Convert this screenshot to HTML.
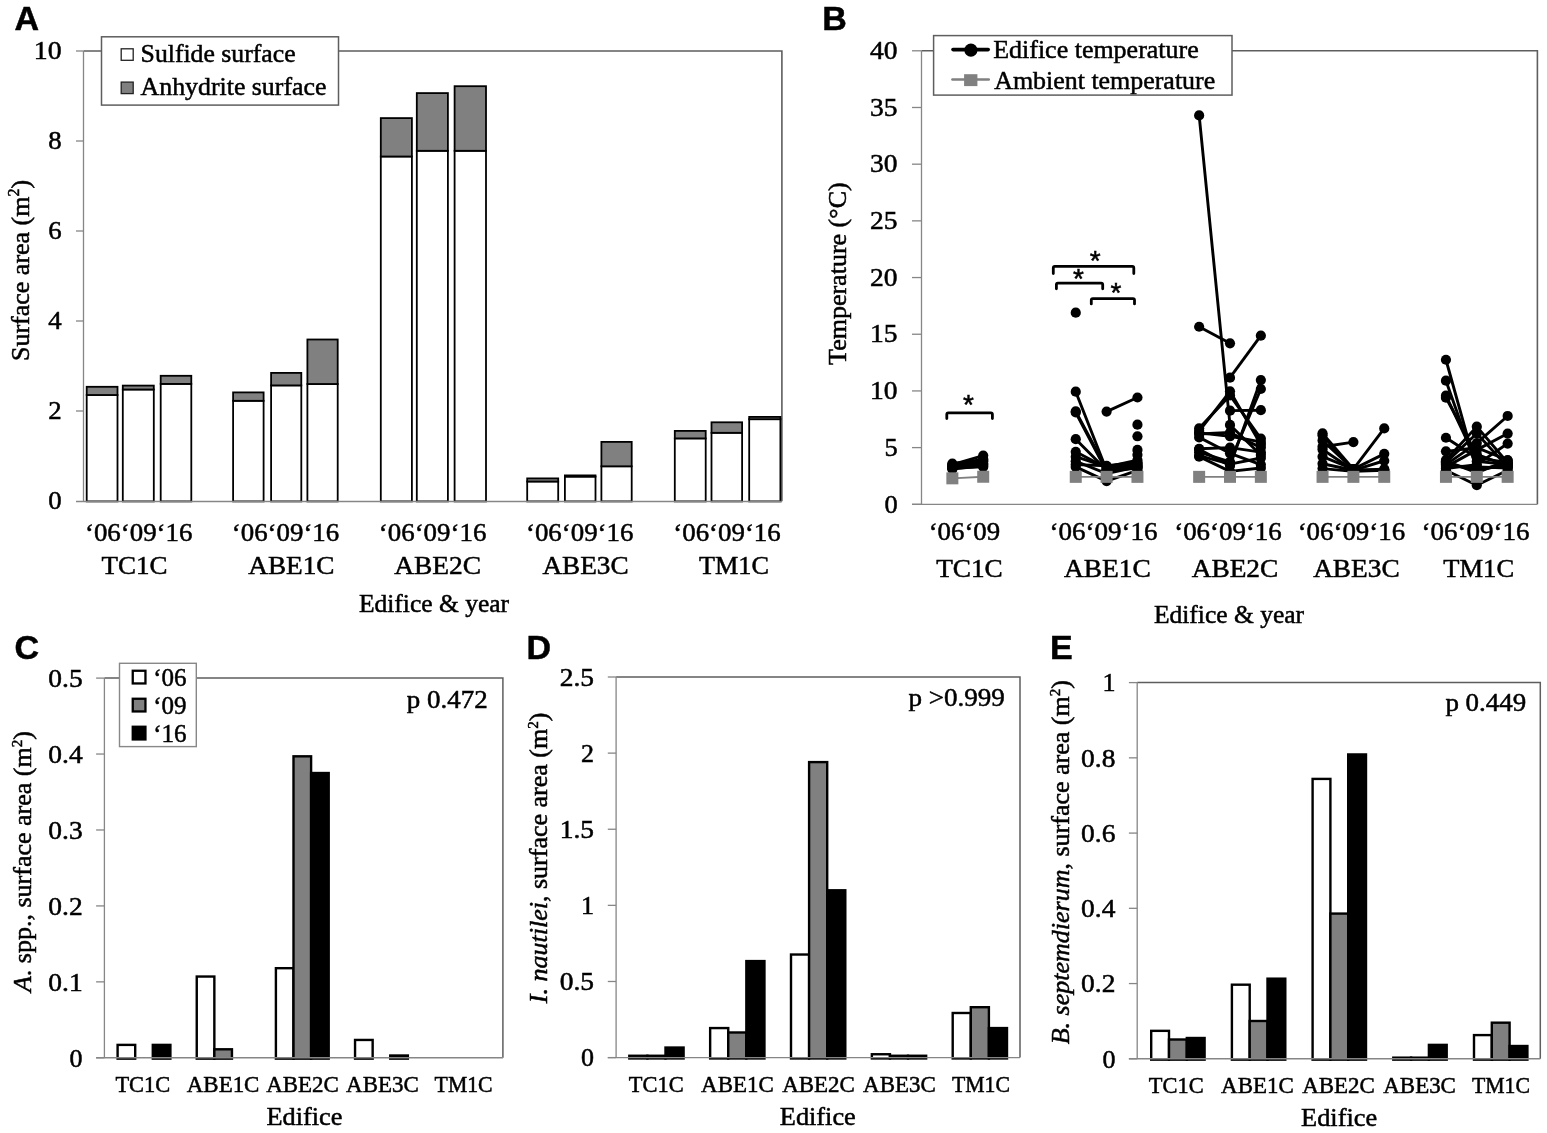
<!DOCTYPE html>
<html><head><meta charset="utf-8"><title>Figure</title>
<style>
html,body{margin:0;padding:0;background:#fff;overflow:hidden;}
svg{display:block;}
text{font-family:'Liberation Serif', 'Times New Roman', serif;fill:#000;stroke:#000;stroke-width:0.5px;}
.ns{stroke:none;}
</style></head><body>
<svg width="1547" height="1133" viewBox="0 0 1547 1133">
<rect width="1547" height="1133" fill="#fff"/>
<text x="14.5" y="30.2" font-size="34" text-anchor="start" style="font-family:'Liberation Sans', Arial, sans-serif" font-weight="bold" >A</text>
<text x="822.3" y="30.0" font-size="34" text-anchor="start" style="font-family:'Liberation Sans', Arial, sans-serif" font-weight="bold" >B</text>
<text x="14.6" y="659.0" font-size="34" text-anchor="start" style="font-family:'Liberation Sans', Arial, sans-serif" font-weight="bold" >C</text>
<text x="526.6" y="658.9" font-size="34" text-anchor="start" style="font-family:'Liberation Sans', Arial, sans-serif" font-weight="bold" >D</text>
<text x="1049.9" y="658.8" font-size="34" text-anchor="start" style="font-family:'Liberation Sans', Arial, sans-serif" font-weight="bold" >E</text>
<path d="M83.50,51.0 H781.9 V501.00" fill="none" stroke="#5e5e5e" stroke-width="1.6"/>
<line x1="83.50" y1="51.00" x2="83.50" y2="501.00" stroke="#868686" stroke-width="1.3" />
<text x="61.6" y="509.2" font-size="25" text-anchor="end" textLength="13.4" lengthAdjust="spacingAndGlyphs" >0</text>
<line x1="76.00" y1="411.00" x2="83.50" y2="411.00" stroke="#868686" stroke-width="1.3" />
<text x="61.6" y="419.2" font-size="25" text-anchor="end" textLength="13.4" lengthAdjust="spacingAndGlyphs" >2</text>
<line x1="76.00" y1="321.00" x2="83.50" y2="321.00" stroke="#868686" stroke-width="1.3" />
<text x="61.6" y="329.2" font-size="25" text-anchor="end" textLength="13.4" lengthAdjust="spacingAndGlyphs" >4</text>
<line x1="76.00" y1="231.00" x2="83.50" y2="231.00" stroke="#868686" stroke-width="1.3" />
<text x="61.6" y="239.2" font-size="25" text-anchor="end" textLength="13.4" lengthAdjust="spacingAndGlyphs" >6</text>
<line x1="76.00" y1="141.00" x2="83.50" y2="141.00" stroke="#868686" stroke-width="1.3" />
<text x="61.6" y="149.2" font-size="25" text-anchor="end" textLength="13.4" lengthAdjust="spacingAndGlyphs" >8</text>
<line x1="76.00" y1="51.00" x2="83.50" y2="51.00" stroke="#868686" stroke-width="1.3" />
<text x="61.6" y="59.2" font-size="25" text-anchor="end" textLength="27.8" lengthAdjust="spacingAndGlyphs" >10</text>
<rect x="86.70" y="395.00" width="30.80" height="106.40" fill="#ffffff" stroke="#000" stroke-width="1.8" />
<rect x="86.70" y="386.80" width="30.80" height="8.20" fill="#808080" stroke="#000" stroke-width="1.8" />
<rect x="122.80" y="389.50" width="31.00" height="111.90" fill="#ffffff" stroke="#000" stroke-width="1.8" />
<rect x="122.80" y="385.60" width="31.00" height="3.90" fill="#808080" stroke="#000" stroke-width="1.8" />
<rect x="160.70" y="383.90" width="30.60" height="117.50" fill="#ffffff" stroke="#000" stroke-width="1.8" />
<rect x="160.70" y="375.80" width="30.60" height="8.10" fill="#808080" stroke="#000" stroke-width="1.8" />
<rect x="233.10" y="400.80" width="30.50" height="100.60" fill="#ffffff" stroke="#000" stroke-width="1.8" />
<rect x="233.10" y="392.40" width="30.50" height="8.40" fill="#808080" stroke="#000" stroke-width="1.8" />
<rect x="271.10" y="385.40" width="30.20" height="116.00" fill="#ffffff" stroke="#000" stroke-width="1.8" />
<rect x="271.10" y="372.90" width="30.20" height="12.50" fill="#808080" stroke="#000" stroke-width="1.8" />
<rect x="307.40" y="384.00" width="30.30" height="117.40" fill="#ffffff" stroke="#000" stroke-width="1.8" />
<rect x="307.40" y="339.50" width="30.30" height="44.50" fill="#808080" stroke="#000" stroke-width="1.8" />
<rect x="380.80" y="156.50" width="31.10" height="344.90" fill="#ffffff" stroke="#000" stroke-width="1.8" />
<rect x="380.80" y="118.10" width="31.10" height="38.40" fill="#808080" stroke="#000" stroke-width="1.8" />
<rect x="416.80" y="150.80" width="31.10" height="350.60" fill="#ffffff" stroke="#000" stroke-width="1.8" />
<rect x="416.80" y="93.10" width="31.10" height="57.70" fill="#808080" stroke="#000" stroke-width="1.8" />
<rect x="454.60" y="150.80" width="31.40" height="350.60" fill="#ffffff" stroke="#000" stroke-width="1.8" />
<rect x="454.60" y="86.20" width="31.40" height="64.60" fill="#808080" stroke="#000" stroke-width="1.8" />
<rect x="527.20" y="481.50" width="31.00" height="19.90" fill="#ffffff" stroke="#000" stroke-width="1.8" />
<rect x="527.20" y="478.40" width="31.00" height="3.10" fill="#808080" stroke="#000" stroke-width="1.8" />
<rect x="564.90" y="476.60" width="30.60" height="24.80" fill="#ffffff" stroke="#000" stroke-width="1.8" />
<rect x="564.90" y="475.40" width="30.60" height="1.20" fill="#808080" stroke="#000" stroke-width="1.8" />
<rect x="601.40" y="466.30" width="30.30" height="35.10" fill="#ffffff" stroke="#000" stroke-width="1.8" />
<rect x="601.40" y="441.90" width="30.30" height="24.40" fill="#808080" stroke="#000" stroke-width="1.8" />
<rect x="674.80" y="438.40" width="30.90" height="63.00" fill="#ffffff" stroke="#000" stroke-width="1.8" />
<rect x="674.80" y="430.90" width="30.90" height="7.50" fill="#808080" stroke="#000" stroke-width="1.8" />
<rect x="711.50" y="432.80" width="30.60" height="68.60" fill="#ffffff" stroke="#000" stroke-width="1.8" />
<rect x="711.50" y="422.30" width="30.60" height="10.50" fill="#808080" stroke="#000" stroke-width="1.8" />
<rect x="749.20" y="419.20" width="31.20" height="82.20" fill="#ffffff" stroke="#000" stroke-width="1.8" />
<rect x="749.20" y="416.90" width="31.20" height="2.30" fill="#808080" stroke="#000" stroke-width="1.8" />
<line x1="76.00" y1="501.40" x2="782.20" y2="501.40" stroke="#868686" stroke-width="1.5" />
<rect x="101.50" y="36.80" width="237.00" height="68.30" fill="#ffffff" stroke="#5e5e5e" stroke-width="1.5" />
<rect x="121.20" y="48.80" width="12.00" height="11.50" fill="#ffffff" stroke="#222" stroke-width="1.3" />
<rect x="121.20" y="82.10" width="12.00" height="11.50" fill="#808080" stroke="#222" stroke-width="1.3" />
<text x="140.6" y="61.5" font-size="25.5" text-anchor="start" textLength="155.0" lengthAdjust="spacingAndGlyphs" >Sulfide surface</text>
<text x="140.6" y="95.4" font-size="25.5" text-anchor="start" textLength="185.8" lengthAdjust="spacingAndGlyphs" >Anhydrite surface</text>
<text x="138.7" y="540.5" font-size="25.5" text-anchor="middle" textLength="107.5" lengthAdjust="spacingAndGlyphs" >‘06‘09‘16</text>
<text x="285.5" y="540.5" font-size="25.5" text-anchor="middle" textLength="107.5" lengthAdjust="spacingAndGlyphs" >‘06‘09‘16</text>
<text x="432.6" y="540.5" font-size="25.5" text-anchor="middle" textLength="107.5" lengthAdjust="spacingAndGlyphs" >‘06‘09‘16</text>
<text x="579.7" y="540.5" font-size="25.5" text-anchor="middle" textLength="107.5" lengthAdjust="spacingAndGlyphs" >‘06‘09‘16</text>
<text x="727.0" y="540.5" font-size="25.5" text-anchor="middle" textLength="107.5" lengthAdjust="spacingAndGlyphs" >‘06‘09‘16</text>
<text x="134.5" y="573.5" font-size="25.5" text-anchor="middle" textLength="65.9" lengthAdjust="spacingAndGlyphs" >TC1C</text>
<text x="291.4" y="573.5" font-size="25.5" text-anchor="middle" textLength="86.3" lengthAdjust="spacingAndGlyphs" >ABE1C</text>
<text x="437.6" y="573.5" font-size="25.5" text-anchor="middle" textLength="86.8" lengthAdjust="spacingAndGlyphs" >ABE2C</text>
<text x="585.5" y="573.5" font-size="25.5" text-anchor="middle" textLength="86.2" lengthAdjust="spacingAndGlyphs" >ABE3C</text>
<text x="734.0" y="573.5" font-size="25.5" text-anchor="middle" textLength="69.9" lengthAdjust="spacingAndGlyphs" >TM1C</text>
<text x="434.0" y="612.3" font-size="25.5" text-anchor="middle" >Edifice &amp; year</text>
<text transform="translate(29.0,270.45) rotate(-90)" font-size="26" text-anchor="middle">Surface area (m<tspan font-size="16" dy="-10">2</tspan><tspan dy="10">)</tspan></text>
<path d="M921.50,50.80 H1537.40 V504.30" fill="none" stroke="#5e5e5e" stroke-width="1.6"/>
<line x1="921.50" y1="50.80" x2="921.50" y2="504.30" stroke="#868686" stroke-width="1.3" />
<line x1="912.00" y1="504.30" x2="921.50" y2="504.30" stroke="#868686" stroke-width="1.3" />
<text x="897.6" y="512.5" font-size="25" text-anchor="end" textLength="13.2" lengthAdjust="spacingAndGlyphs" >0</text>
<line x1="912.00" y1="447.61" x2="921.50" y2="447.61" stroke="#868686" stroke-width="1.3" />
<text x="897.6" y="455.8" font-size="25" text-anchor="end" textLength="13.2" lengthAdjust="spacingAndGlyphs" >5</text>
<line x1="912.00" y1="390.93" x2="921.50" y2="390.93" stroke="#868686" stroke-width="1.3" />
<text x="897.6" y="399.1" font-size="25" text-anchor="end" textLength="27.5" lengthAdjust="spacingAndGlyphs" >10</text>
<line x1="912.00" y1="334.24" x2="921.50" y2="334.24" stroke="#868686" stroke-width="1.3" />
<text x="897.6" y="342.4" font-size="25" text-anchor="end" textLength="27.5" lengthAdjust="spacingAndGlyphs" >15</text>
<line x1="912.00" y1="277.55" x2="921.50" y2="277.55" stroke="#868686" stroke-width="1.3" />
<text x="897.6" y="285.8" font-size="25" text-anchor="end" textLength="27.5" lengthAdjust="spacingAndGlyphs" >20</text>
<line x1="912.00" y1="220.86" x2="921.50" y2="220.86" stroke="#868686" stroke-width="1.3" />
<text x="897.6" y="229.1" font-size="25" text-anchor="end" textLength="27.5" lengthAdjust="spacingAndGlyphs" >25</text>
<line x1="912.00" y1="164.18" x2="921.50" y2="164.18" stroke="#868686" stroke-width="1.3" />
<text x="897.6" y="172.4" font-size="25" text-anchor="end" textLength="27.5" lengthAdjust="spacingAndGlyphs" >30</text>
<line x1="912.00" y1="107.49" x2="921.50" y2="107.49" stroke="#868686" stroke-width="1.3" />
<text x="897.6" y="115.7" font-size="25" text-anchor="end" textLength="27.5" lengthAdjust="spacingAndGlyphs" >35</text>
<line x1="912.00" y1="50.80" x2="921.50" y2="50.80" stroke="#868686" stroke-width="1.3" />
<text x="897.6" y="59.0" font-size="25" text-anchor="end" textLength="27.5" lengthAdjust="spacingAndGlyphs" >40</text>
<line x1="912.00" y1="504.30" x2="1537.40" y2="504.30" stroke="#868686" stroke-width="1.3" />
<polyline points="952.35,469.15 983.20,465.75" fill="none" stroke="#000" stroke-width="2.9" stroke-linejoin="round"/>
<circle cx="952.35" cy="469.15" r="5.1" fill="#000"/>
<circle cx="983.20" cy="465.75" r="5.1" fill="#000"/>
<polyline points="952.35,468.02 983.20,463.49" fill="none" stroke="#000" stroke-width="2.9" stroke-linejoin="round"/>
<circle cx="952.35" cy="468.02" r="5.1" fill="#000"/>
<circle cx="983.20" cy="463.49" r="5.1" fill="#000"/>
<polyline points="952.35,466.89 983.20,461.22" fill="none" stroke="#000" stroke-width="2.9" stroke-linejoin="round"/>
<circle cx="952.35" cy="466.89" r="5.1" fill="#000"/>
<circle cx="983.20" cy="461.22" r="5.1" fill="#000"/>
<polyline points="952.35,465.75 983.20,458.95" fill="none" stroke="#000" stroke-width="2.9" stroke-linejoin="round"/>
<circle cx="952.35" cy="465.75" r="5.1" fill="#000"/>
<circle cx="983.20" cy="458.95" r="5.1" fill="#000"/>
<polyline points="952.35,464.62 983.20,455.55" fill="none" stroke="#000" stroke-width="2.9" stroke-linejoin="round"/>
<circle cx="952.35" cy="464.62" r="5.1" fill="#000"/>
<circle cx="983.20" cy="455.55" r="5.1" fill="#000"/>
<polyline points="952.35,463.49 983.20,460.08" fill="none" stroke="#000" stroke-width="2.9" stroke-linejoin="round"/>
<circle cx="952.35" cy="463.49" r="5.1" fill="#000"/>
<circle cx="983.20" cy="460.08" r="5.1" fill="#000"/>
<polyline points="952.35,466.89 983.20,464.62" fill="none" stroke="#000" stroke-width="2.9" stroke-linejoin="round"/>
<circle cx="952.35" cy="466.89" r="5.1" fill="#000"/>
<circle cx="983.20" cy="464.62" r="5.1" fill="#000"/>
<polyline points="952.35,468.02 983.20,466.89" fill="none" stroke="#000" stroke-width="2.9" stroke-linejoin="round"/>
<circle cx="952.35" cy="468.02" r="5.1" fill="#000"/>
<circle cx="983.20" cy="466.89" r="5.1" fill="#000"/>
<circle cx="1075.75" cy="312.70" r="5.1" fill="#000"/>
<polyline points="1075.75,391.72 1106.60,470.29 1137.45,466.89" fill="none" stroke="#000" stroke-width="2.9" stroke-linejoin="round"/>
<circle cx="1075.75" cy="391.72" r="5.1" fill="#000"/>
<circle cx="1106.60" cy="470.29" r="5.1" fill="#000"/>
<circle cx="1137.45" cy="466.89" r="5.1" fill="#000"/>
<polyline points="1075.75,411.33 1106.60,469.15 1137.45,464.62" fill="none" stroke="#000" stroke-width="2.9" stroke-linejoin="round"/>
<circle cx="1075.75" cy="411.33" r="5.1" fill="#000"/>
<circle cx="1106.60" cy="469.15" r="5.1" fill="#000"/>
<circle cx="1137.45" cy="464.62" r="5.1" fill="#000"/>
<polyline points="1075.75,412.47 1106.60,471.42 1137.45,468.02" fill="none" stroke="#000" stroke-width="2.9" stroke-linejoin="round"/>
<circle cx="1075.75" cy="412.47" r="5.1" fill="#000"/>
<circle cx="1106.60" cy="471.42" r="5.1" fill="#000"/>
<circle cx="1137.45" cy="468.02" r="5.1" fill="#000"/>
<polyline points="1075.75,439.22 1106.60,470.29 1137.45,465.75" fill="none" stroke="#000" stroke-width="2.9" stroke-linejoin="round"/>
<circle cx="1075.75" cy="439.22" r="5.1" fill="#000"/>
<circle cx="1106.60" cy="470.29" r="5.1" fill="#000"/>
<circle cx="1137.45" cy="465.75" r="5.1" fill="#000"/>
<polyline points="1075.75,451.81 1106.60,468.02 1137.45,463.49" fill="none" stroke="#000" stroke-width="2.9" stroke-linejoin="round"/>
<circle cx="1075.75" cy="451.81" r="5.1" fill="#000"/>
<circle cx="1106.60" cy="468.02" r="5.1" fill="#000"/>
<circle cx="1137.45" cy="463.49" r="5.1" fill="#000"/>
<polyline points="1075.75,456.68 1106.60,466.89 1137.45,460.08" fill="none" stroke="#000" stroke-width="2.9" stroke-linejoin="round"/>
<circle cx="1075.75" cy="456.68" r="5.1" fill="#000"/>
<circle cx="1106.60" cy="466.89" r="5.1" fill="#000"/>
<circle cx="1137.45" cy="460.08" r="5.1" fill="#000"/>
<polyline points="1075.75,461.22 1106.60,473.69 1137.45,466.89" fill="none" stroke="#000" stroke-width="2.9" stroke-linejoin="round"/>
<circle cx="1075.75" cy="461.22" r="5.1" fill="#000"/>
<circle cx="1106.60" cy="473.69" r="5.1" fill="#000"/>
<circle cx="1137.45" cy="466.89" r="5.1" fill="#000"/>
<polyline points="1075.75,464.62 1106.60,465.75 1137.45,462.35" fill="none" stroke="#000" stroke-width="2.9" stroke-linejoin="round"/>
<circle cx="1075.75" cy="464.62" r="5.1" fill="#000"/>
<circle cx="1106.60" cy="465.75" r="5.1" fill="#000"/>
<circle cx="1137.45" cy="462.35" r="5.1" fill="#000"/>
<polyline points="1075.75,466.89 1106.60,481.06 1137.45,470.29" fill="none" stroke="#000" stroke-width="2.9" stroke-linejoin="round"/>
<circle cx="1075.75" cy="466.89" r="5.1" fill="#000"/>
<circle cx="1106.60" cy="481.06" r="5.1" fill="#000"/>
<circle cx="1137.45" cy="470.29" r="5.1" fill="#000"/>
<polyline points="1106.60,411.56 1137.45,397.50" fill="none" stroke="#000" stroke-width="2.9" stroke-linejoin="round"/>
<circle cx="1106.60" cy="411.56" r="5.1" fill="#000"/>
<circle cx="1137.45" cy="397.50" r="5.1" fill="#000"/>
<circle cx="1137.45" cy="424.71" r="5.1" fill="#000"/>
<circle cx="1137.45" cy="436.27" r="5.1" fill="#000"/>
<circle cx="1137.45" cy="449.88" r="5.1" fill="#000"/>
<circle cx="1137.45" cy="454.76" r="5.1" fill="#000"/>
<polyline points="1199.15,115.42 1230.00,424.94 1260.85,454.98" fill="none" stroke="#000" stroke-width="2.9" stroke-linejoin="round"/>
<circle cx="1199.15" cy="115.42" r="5.1" fill="#000"/>
<circle cx="1230.00" cy="424.94" r="5.1" fill="#000"/>
<circle cx="1260.85" cy="454.98" r="5.1" fill="#000"/>
<polyline points="1199.15,326.75 1230.00,343.31" fill="none" stroke="#000" stroke-width="2.9" stroke-linejoin="round"/>
<circle cx="1199.15" cy="326.75" r="5.1" fill="#000"/>
<circle cx="1230.00" cy="343.31" r="5.1" fill="#000"/>
<polyline points="1230.00,377.66 1260.85,335.71" fill="none" stroke="#000" stroke-width="2.9" stroke-linejoin="round"/>
<circle cx="1230.00" cy="377.66" r="5.1" fill="#000"/>
<circle cx="1260.85" cy="335.71" r="5.1" fill="#000"/>
<polyline points="1199.15,428.34 1230.00,395.46 1260.85,438.54" fill="none" stroke="#000" stroke-width="2.9" stroke-linejoin="round"/>
<circle cx="1199.15" cy="428.34" r="5.1" fill="#000"/>
<circle cx="1230.00" cy="395.46" r="5.1" fill="#000"/>
<circle cx="1260.85" cy="438.54" r="5.1" fill="#000"/>
<polyline points="1230.00,410.65 1260.85,410.20" fill="none" stroke="#000" stroke-width="2.9" stroke-linejoin="round"/>
<circle cx="1230.00" cy="410.65" r="5.1" fill="#000"/>
<circle cx="1260.85" cy="410.20" r="5.1" fill="#000"/>
<polyline points="1199.15,432.87 1230.00,436.27 1260.85,441.94" fill="none" stroke="#000" stroke-width="2.9" stroke-linejoin="round"/>
<circle cx="1199.15" cy="432.87" r="5.1" fill="#000"/>
<circle cx="1230.00" cy="436.27" r="5.1" fill="#000"/>
<circle cx="1260.85" cy="441.94" r="5.1" fill="#000"/>
<polyline points="1199.15,431.06 1230.00,391.27 1260.85,444.55" fill="none" stroke="#000" stroke-width="2.9" stroke-linejoin="round"/>
<circle cx="1199.15" cy="431.06" r="5.1" fill="#000"/>
<circle cx="1230.00" cy="391.27" r="5.1" fill="#000"/>
<circle cx="1260.85" cy="444.55" r="5.1" fill="#000"/>
<polyline points="1199.15,434.01 1230.00,432.53 1260.85,447.61" fill="none" stroke="#000" stroke-width="2.9" stroke-linejoin="round"/>
<circle cx="1199.15" cy="434.01" r="5.1" fill="#000"/>
<circle cx="1230.00" cy="432.53" r="5.1" fill="#000"/>
<circle cx="1260.85" cy="447.61" r="5.1" fill="#000"/>
<polyline points="1199.15,449.31 1230.00,465.75 1260.85,380.04" fill="none" stroke="#000" stroke-width="2.9" stroke-linejoin="round"/>
<circle cx="1199.15" cy="449.31" r="5.1" fill="#000"/>
<circle cx="1230.00" cy="465.75" r="5.1" fill="#000"/>
<circle cx="1260.85" cy="380.04" r="5.1" fill="#000"/>
<polyline points="1199.15,452.15 1230.00,461.78 1260.85,389.00" fill="none" stroke="#000" stroke-width="2.9" stroke-linejoin="round"/>
<circle cx="1199.15" cy="452.15" r="5.1" fill="#000"/>
<circle cx="1230.00" cy="461.78" r="5.1" fill="#000"/>
<circle cx="1260.85" cy="389.00" r="5.1" fill="#000"/>
<polyline points="1199.15,455.55 1230.00,464.05 1260.85,458.04" fill="none" stroke="#000" stroke-width="2.9" stroke-linejoin="round"/>
<circle cx="1199.15" cy="455.55" r="5.1" fill="#000"/>
<circle cx="1230.00" cy="464.05" r="5.1" fill="#000"/>
<circle cx="1260.85" cy="458.04" r="5.1" fill="#000"/>
<polyline points="1199.15,456.68 1230.00,471.42 1260.85,468.02" fill="none" stroke="#000" stroke-width="2.9" stroke-linejoin="round"/>
<circle cx="1199.15" cy="456.68" r="5.1" fill="#000"/>
<circle cx="1230.00" cy="471.42" r="5.1" fill="#000"/>
<circle cx="1260.85" cy="468.02" r="5.1" fill="#000"/>
<polyline points="1199.15,437.41 1230.00,453.28 1260.85,464.62" fill="none" stroke="#000" stroke-width="2.9" stroke-linejoin="round"/>
<circle cx="1199.15" cy="437.41" r="5.1" fill="#000"/>
<circle cx="1230.00" cy="453.28" r="5.1" fill="#000"/>
<circle cx="1260.85" cy="464.62" r="5.1" fill="#000"/>
<polyline points="1199.15,448.75 1230.00,447.61 1260.85,452.15" fill="none" stroke="#000" stroke-width="2.9" stroke-linejoin="round"/>
<circle cx="1199.15" cy="448.75" r="5.1" fill="#000"/>
<circle cx="1230.00" cy="447.61" r="5.1" fill="#000"/>
<circle cx="1260.85" cy="452.15" r="5.1" fill="#000"/>
<polyline points="1322.55,433.33 1353.40,469.15" fill="none" stroke="#000" stroke-width="2.9" stroke-linejoin="round"/>
<circle cx="1322.55" cy="433.33" r="5.1" fill="#000"/>
<circle cx="1353.40" cy="469.15" r="5.1" fill="#000"/>
<polyline points="1322.55,435.37 1353.40,470.29 1384.25,469.95" fill="none" stroke="#000" stroke-width="2.9" stroke-linejoin="round"/>
<circle cx="1322.55" cy="435.37" r="5.1" fill="#000"/>
<circle cx="1353.40" cy="470.29" r="5.1" fill="#000"/>
<circle cx="1384.25" cy="469.95" r="5.1" fill="#000"/>
<polyline points="1322.55,440.47 1353.40,469.15 1384.25,453.85" fill="none" stroke="#000" stroke-width="2.9" stroke-linejoin="round"/>
<circle cx="1322.55" cy="440.47" r="5.1" fill="#000"/>
<circle cx="1353.40" cy="469.15" r="5.1" fill="#000"/>
<circle cx="1384.25" cy="453.85" r="5.1" fill="#000"/>
<polyline points="1322.55,446.71 1353.40,442.06" fill="none" stroke="#000" stroke-width="2.9" stroke-linejoin="round"/>
<circle cx="1322.55" cy="446.71" r="5.1" fill="#000"/>
<circle cx="1353.40" cy="442.06" r="5.1" fill="#000"/>
<polyline points="1322.55,449.54 1353.40,470.29 1384.25,460.76" fill="none" stroke="#000" stroke-width="2.9" stroke-linejoin="round"/>
<circle cx="1322.55" cy="449.54" r="5.1" fill="#000"/>
<circle cx="1353.40" cy="470.29" r="5.1" fill="#000"/>
<circle cx="1384.25" cy="460.76" r="5.1" fill="#000"/>
<polyline points="1322.55,456.68 1353.40,469.15 1384.25,428.45" fill="none" stroke="#000" stroke-width="2.9" stroke-linejoin="round"/>
<circle cx="1322.55" cy="456.68" r="5.1" fill="#000"/>
<circle cx="1353.40" cy="469.15" r="5.1" fill="#000"/>
<circle cx="1384.25" cy="428.45" r="5.1" fill="#000"/>
<polyline points="1322.55,463.71 1353.40,470.29 1384.25,469.15" fill="none" stroke="#000" stroke-width="2.9" stroke-linejoin="round"/>
<circle cx="1322.55" cy="463.71" r="5.1" fill="#000"/>
<circle cx="1353.40" cy="470.29" r="5.1" fill="#000"/>
<circle cx="1384.25" cy="469.15" r="5.1" fill="#000"/>
<polyline points="1322.55,468.59 1353.40,471.42 1384.25,470.29" fill="none" stroke="#000" stroke-width="2.9" stroke-linejoin="round"/>
<circle cx="1322.55" cy="468.59" r="5.1" fill="#000"/>
<circle cx="1353.40" cy="471.42" r="5.1" fill="#000"/>
<circle cx="1384.25" cy="470.29" r="5.1" fill="#000"/>
<polyline points="1445.95,359.75 1476.80,470.29 1507.65,463.49" fill="none" stroke="#000" stroke-width="2.9" stroke-linejoin="round"/>
<circle cx="1445.95" cy="359.75" r="5.1" fill="#000"/>
<circle cx="1476.80" cy="470.29" r="5.1" fill="#000"/>
<circle cx="1507.65" cy="463.49" r="5.1" fill="#000"/>
<polyline points="1445.95,380.72 1476.80,468.02 1507.65,466.89" fill="none" stroke="#000" stroke-width="2.9" stroke-linejoin="round"/>
<circle cx="1445.95" cy="380.72" r="5.1" fill="#000"/>
<circle cx="1476.80" cy="468.02" r="5.1" fill="#000"/>
<circle cx="1507.65" cy="466.89" r="5.1" fill="#000"/>
<polyline points="1445.95,395.69 1476.80,461.22 1507.65,464.62" fill="none" stroke="#000" stroke-width="2.9" stroke-linejoin="round"/>
<circle cx="1445.95" cy="395.69" r="5.1" fill="#000"/>
<circle cx="1476.80" cy="461.22" r="5.1" fill="#000"/>
<circle cx="1507.65" cy="464.62" r="5.1" fill="#000"/>
<polyline points="1445.95,397.73 1476.80,454.42 1507.65,465.75" fill="none" stroke="#000" stroke-width="2.9" stroke-linejoin="round"/>
<circle cx="1445.95" cy="397.73" r="5.1" fill="#000"/>
<circle cx="1476.80" cy="454.42" r="5.1" fill="#000"/>
<circle cx="1507.65" cy="465.75" r="5.1" fill="#000"/>
<polyline points="1445.95,437.75 1476.80,457.82 1507.65,462.35" fill="none" stroke="#000" stroke-width="2.9" stroke-linejoin="round"/>
<circle cx="1445.95" cy="437.75" r="5.1" fill="#000"/>
<circle cx="1476.80" cy="457.82" r="5.1" fill="#000"/>
<circle cx="1507.65" cy="462.35" r="5.1" fill="#000"/>
<polyline points="1445.95,451.35 1476.80,447.61 1507.65,460.08" fill="none" stroke="#000" stroke-width="2.9" stroke-linejoin="round"/>
<circle cx="1445.95" cy="451.35" r="5.1" fill="#000"/>
<circle cx="1476.80" cy="447.61" r="5.1" fill="#000"/>
<circle cx="1507.65" cy="460.08" r="5.1" fill="#000"/>
<polyline points="1445.95,460.08 1476.80,426.64 1507.65,462.69" fill="none" stroke="#000" stroke-width="2.9" stroke-linejoin="round"/>
<circle cx="1445.95" cy="460.08" r="5.1" fill="#000"/>
<circle cx="1476.80" cy="426.64" r="5.1" fill="#000"/>
<circle cx="1507.65" cy="462.69" r="5.1" fill="#000"/>
<polyline points="1445.95,462.35 1476.80,433.44 1507.65,466.89" fill="none" stroke="#000" stroke-width="2.9" stroke-linejoin="round"/>
<circle cx="1445.95" cy="462.35" r="5.1" fill="#000"/>
<circle cx="1476.80" cy="433.44" r="5.1" fill="#000"/>
<circle cx="1507.65" cy="466.89" r="5.1" fill="#000"/>
<polyline points="1445.95,464.62 1476.80,443.08 1507.65,415.98" fill="none" stroke="#000" stroke-width="2.9" stroke-linejoin="round"/>
<circle cx="1445.95" cy="464.62" r="5.1" fill="#000"/>
<circle cx="1476.80" cy="443.08" r="5.1" fill="#000"/>
<circle cx="1507.65" cy="415.98" r="5.1" fill="#000"/>
<polyline points="1445.95,466.89 1476.80,449.88 1507.65,433.55" fill="none" stroke="#000" stroke-width="2.9" stroke-linejoin="round"/>
<circle cx="1445.95" cy="466.89" r="5.1" fill="#000"/>
<circle cx="1476.80" cy="449.88" r="5.1" fill="#000"/>
<circle cx="1507.65" cy="433.55" r="5.1" fill="#000"/>
<polyline points="1445.95,468.47 1476.80,464.62 1507.65,443.53" fill="none" stroke="#000" stroke-width="2.9" stroke-linejoin="round"/>
<circle cx="1445.95" cy="468.47" r="5.1" fill="#000"/>
<circle cx="1476.80" cy="464.62" r="5.1" fill="#000"/>
<circle cx="1507.65" cy="443.53" r="5.1" fill="#000"/>
<polyline points="1445.95,470.29 1476.80,485.25 1507.65,470.29" fill="none" stroke="#000" stroke-width="2.9" stroke-linejoin="round"/>
<circle cx="1445.95" cy="470.29" r="5.1" fill="#000"/>
<circle cx="1476.80" cy="485.25" r="5.1" fill="#000"/>
<circle cx="1507.65" cy="470.29" r="5.1" fill="#000"/>
<polyline points="1445.95,461.22 1476.80,472.56 1507.65,460.65" fill="none" stroke="#000" stroke-width="2.9" stroke-linejoin="round"/>
<circle cx="1445.95" cy="461.22" r="5.1" fill="#000"/>
<circle cx="1476.80" cy="472.56" r="5.1" fill="#000"/>
<circle cx="1507.65" cy="460.65" r="5.1" fill="#000"/>
<polyline points="1445.95,465.75 1476.80,466.89 1507.65,468.02" fill="none" stroke="#000" stroke-width="2.9" stroke-linejoin="round"/>
<circle cx="1445.95" cy="465.75" r="5.1" fill="#000"/>
<circle cx="1476.80" cy="466.89" r="5.1" fill="#000"/>
<circle cx="1507.65" cy="468.02" r="5.1" fill="#000"/>
<polyline points="1445.95,463.49 1476.80,470.29 1507.65,464.62" fill="none" stroke="#000" stroke-width="2.9" stroke-linejoin="round"/>
<circle cx="1445.95" cy="463.49" r="5.1" fill="#000"/>
<circle cx="1476.80" cy="470.29" r="5.1" fill="#000"/>
<circle cx="1507.65" cy="464.62" r="5.1" fill="#000"/>
<polyline points="952.35,478.34 983.20,476.75" fill="none" stroke="#808080" stroke-width="1.8"/>
<rect x="946.35" y="472.34" width="12" height="12" fill="#808080"/>
<rect x="977.20" y="470.75" width="12" height="12" fill="#808080"/>
<polyline points="1075.75,476.86 1106.60,476.86 1137.45,476.86" fill="none" stroke="#808080" stroke-width="1.8"/>
<rect x="1069.75" y="470.86" width="12" height="12" fill="#808080"/>
<rect x="1100.60" y="470.86" width="12" height="12" fill="#808080"/>
<rect x="1131.45" y="470.86" width="12" height="12" fill="#808080"/>
<polyline points="1199.15,476.86 1230.00,476.86 1260.85,476.86" fill="none" stroke="#808080" stroke-width="1.8"/>
<rect x="1193.15" y="470.86" width="12" height="12" fill="#808080"/>
<rect x="1224.00" y="470.86" width="12" height="12" fill="#808080"/>
<rect x="1254.85" y="470.86" width="12" height="12" fill="#808080"/>
<polyline points="1322.55,476.86 1353.40,476.86 1384.25,476.86" fill="none" stroke="#808080" stroke-width="1.8"/>
<rect x="1316.55" y="470.86" width="12" height="12" fill="#808080"/>
<rect x="1347.40" y="470.86" width="12" height="12" fill="#808080"/>
<rect x="1378.25" y="470.86" width="12" height="12" fill="#808080"/>
<polyline points="1445.95,476.86 1476.80,476.86 1507.65,476.86" fill="none" stroke="#808080" stroke-width="1.8"/>
<rect x="1439.95" y="470.86" width="12" height="12" fill="#808080"/>
<rect x="1470.80" y="470.86" width="12" height="12" fill="#808080"/>
<rect x="1501.65" y="470.86" width="12" height="12" fill="#808080"/>
<path d="M946.8,418.6 V414.3 Q946.8,412.8 948.3,412.8 H990.9 Q992.4,412.8 992.4,414.3 V418.6" fill="none" stroke="#000" stroke-width="2.8" stroke-linecap="round"/>
<text x="968.4" y="413.6" font-size="28" text-anchor="middle" style="font-family:'Liberation Sans', Arial, sans-serif" >*</text>
<path d="M1053.3,273.6 V267.9 Q1053.3,266.4 1054.8,266.4 H1132.3 Q1133.8,266.4 1133.8,267.9 V273.6" fill="none" stroke="#000" stroke-width="2.8" stroke-linecap="round"/>
<text x="1095.2" y="269.8" font-size="28" text-anchor="middle" style="font-family:'Liberation Sans', Arial, sans-serif" >*</text>
<path d="M1056.4,288.8 V284.6 Q1056.4,283.1 1057.9,283.1 H1101.2 Q1102.7,283.1 1102.7,284.6 V288.8" fill="none" stroke="#000" stroke-width="2.8" stroke-linecap="round"/>
<text x="1078.4" y="288.0" font-size="28" text-anchor="middle" style="font-family:'Liberation Sans', Arial, sans-serif" >*</text>
<path d="M1091.3,303.9 V300.1 Q1091.3,298.6 1092.8,298.6 H1133.0 Q1134.5,298.6 1134.5,300.1 V303.9" fill="none" stroke="#000" stroke-width="2.8" stroke-linecap="round"/>
<text x="1116.0" y="302.0" font-size="28" text-anchor="middle" style="font-family:'Liberation Sans', Arial, sans-serif" >*</text>
<rect x="933.60" y="35.60" width="298.40" height="59.50" fill="#ffffff" stroke="#5e5e5e" stroke-width="1.5" />
<line x1="953.00" y1="49.60" x2="988.20" y2="49.60" stroke="#000" stroke-width="3.6" stroke-linecap="round"/>
<circle cx="970.9" cy="50.1" r="6.6" fill="#000"/>
<line x1="952.40" y1="79.50" x2="988.80" y2="79.50" stroke="#808080" stroke-width="2.4" stroke-linecap="round"/>
<rect x="964.10" y="74.20" width="13.30" height="11.90" fill="#808080" stroke="none" stroke-width="1" />
<text x="993.2" y="57.8" font-size="25.5" text-anchor="start" textLength="205.5" lengthAdjust="spacingAndGlyphs" >Edifice temperature</text>
<text x="994.2" y="89.1" font-size="25.5" text-anchor="start" textLength="221.0" lengthAdjust="spacingAndGlyphs" >Ambient temperature</text>
<text x="964.4" y="540.3" font-size="25.5" text-anchor="middle" textLength="71.5" lengthAdjust="spacingAndGlyphs" >‘06‘09</text>
<text x="1103.5" y="540.3" font-size="25.5" text-anchor="middle" textLength="108.0" lengthAdjust="spacingAndGlyphs" >‘06‘09‘16</text>
<text x="1228.0" y="540.3" font-size="25.5" text-anchor="middle" textLength="107.6" lengthAdjust="spacingAndGlyphs" >‘06‘09‘16</text>
<text x="1351.4" y="540.3" font-size="25.5" text-anchor="middle" textLength="107.5" lengthAdjust="spacingAndGlyphs" >‘06‘09‘16</text>
<text x="1475.5" y="540.3" font-size="25.5" text-anchor="middle" textLength="108.1" lengthAdjust="spacingAndGlyphs" >‘06‘09‘16</text>
<text x="969.5" y="576.6" font-size="25.5" text-anchor="middle" textLength="66.6" lengthAdjust="spacingAndGlyphs" >TC1C</text>
<text x="1107.3" y="576.6" font-size="25.5" text-anchor="middle" textLength="86.8" lengthAdjust="spacingAndGlyphs" >ABE1C</text>
<text x="1235.0" y="576.6" font-size="25.5" text-anchor="middle" textLength="86.6" lengthAdjust="spacingAndGlyphs" >ABE2C</text>
<text x="1356.4" y="576.6" font-size="25.5" text-anchor="middle" textLength="86.5" lengthAdjust="spacingAndGlyphs" >ABE3C</text>
<text x="1478.7" y="576.6" font-size="25.5" text-anchor="middle" textLength="70.8" lengthAdjust="spacingAndGlyphs" >TM1C</text>
<text x="1229.0" y="622.8" font-size="25.5" text-anchor="middle" >Edifice &amp; year</text>
<text transform="translate(845.7,273.65) rotate(-90)" font-size="26" text-anchor="middle">Temperature (°C)</text>
<path d="M104.40,678.10 H502.90 V1057.80" fill="none" stroke="#5e5e5e" stroke-width="1.5"/>
<line x1="104.40" y1="678.10" x2="104.40" y2="1057.80" stroke="#868686" stroke-width="1.3" />
<line x1="96.10" y1="1057.80" x2="104.40" y2="1057.80" stroke="#868686" stroke-width="1.3" />
<text x="82.6" y="1066.5" font-size="24.5" text-anchor="end" textLength="13.0" lengthAdjust="spacingAndGlyphs" >0</text>
<line x1="96.10" y1="981.86" x2="104.40" y2="981.86" stroke="#868686" stroke-width="1.3" />
<text x="82.6" y="990.6" font-size="24.5" text-anchor="end" textLength="34.3" lengthAdjust="spacingAndGlyphs" >0.1</text>
<line x1="96.10" y1="905.92" x2="104.40" y2="905.92" stroke="#868686" stroke-width="1.3" />
<text x="82.6" y="914.6" font-size="24.5" text-anchor="end" textLength="34.3" lengthAdjust="spacingAndGlyphs" >0.2</text>
<line x1="96.10" y1="829.98" x2="104.40" y2="829.98" stroke="#868686" stroke-width="1.3" />
<text x="82.6" y="838.7" font-size="24.5" text-anchor="end" textLength="34.3" lengthAdjust="spacingAndGlyphs" >0.3</text>
<line x1="96.10" y1="754.04" x2="104.40" y2="754.04" stroke="#868686" stroke-width="1.3" />
<text x="82.6" y="762.7" font-size="24.5" text-anchor="end" textLength="34.3" lengthAdjust="spacingAndGlyphs" >0.4</text>
<line x1="96.10" y1="678.10" x2="104.40" y2="678.10" stroke="#868686" stroke-width="1.3" />
<text x="82.6" y="686.8" font-size="24.5" text-anchor="end" textLength="34.3" lengthAdjust="spacingAndGlyphs" >0.5</text>
<rect x="117.60" y="1044.89" width="17.60" height="13.76" fill="#ffffff" stroke="#000" stroke-width="2.4" />
<rect x="152.80" y="1044.89" width="17.60" height="13.76" fill="#000000" stroke="#000" stroke-width="2.4" />
<rect x="196.75" y="976.54" width="17.60" height="82.11" fill="#ffffff" stroke="#000" stroke-width="2.4" />
<rect x="214.35" y="1049.29" width="17.60" height="9.36" fill="#808080" stroke="#000" stroke-width="2.4" />
<rect x="275.90" y="968.19" width="17.60" height="90.46" fill="#ffffff" stroke="#000" stroke-width="2.4" />
<rect x="293.50" y="756.32" width="17.60" height="302.33" fill="#808080" stroke="#000" stroke-width="2.4" />
<rect x="311.10" y="773.02" width="17.60" height="285.62" fill="#000000" stroke="#000" stroke-width="2.4" />
<rect x="355.05" y="1039.95" width="17.60" height="18.70" fill="#ffffff" stroke="#000" stroke-width="2.4" />
<rect x="390.25" y="1055.52" width="17.60" height="3.13" fill="#000000" stroke="#000" stroke-width="2.4" />
<line x1="96.10" y1="1057.80" x2="502.90" y2="1057.80" stroke="#868686" stroke-width="1.4" />
<text x="142.8" y="1091.9" font-size="22.5" text-anchor="middle" textLength="54.8" lengthAdjust="spacingAndGlyphs" >TC1C</text>
<text x="223.1" y="1091.9" font-size="22.5" text-anchor="middle" textLength="72.6" lengthAdjust="spacingAndGlyphs" >ABE1C</text>
<text x="302.5" y="1091.9" font-size="22.5" text-anchor="middle" textLength="72.6" lengthAdjust="spacingAndGlyphs" >ABE2C</text>
<text x="382.4" y="1091.9" font-size="22.5" text-anchor="middle" textLength="72.6" lengthAdjust="spacingAndGlyphs" >ABE3C</text>
<text x="463.6" y="1091.9" font-size="22.5" text-anchor="middle" textLength="58.0" lengthAdjust="spacingAndGlyphs" >TM1C</text>
<text x="304.4" y="1125.2" font-size="25.5" text-anchor="middle" textLength="76.0" lengthAdjust="spacingAndGlyphs" >Edifice</text>
<text x="487.6" y="708.4" font-size="25" text-anchor="end" textLength="80.8" lengthAdjust="spacingAndGlyphs" >p 0.472</text>
<text transform="translate(30.9,861.6) rotate(-90)" font-size="26" text-anchor="middle"><tspan font-style="italic">A</tspan>. spp., surface area (m<tspan font-size="15" dy="-9">2</tspan><tspan dy="9">)</tspan></text>
<path d="M616.10,677.00 H1020.00 V1057.60" fill="none" stroke="#5e5e5e" stroke-width="1.5"/>
<line x1="616.10" y1="677.00" x2="616.10" y2="1057.60" stroke="#868686" stroke-width="1.3" />
<line x1="607.80" y1="1057.60" x2="616.10" y2="1057.60" stroke="#868686" stroke-width="1.3" />
<text x="594.0" y="1066.3" font-size="24.5" text-anchor="end" textLength="13.0" lengthAdjust="spacingAndGlyphs" >0</text>
<line x1="607.80" y1="981.48" x2="616.10" y2="981.48" stroke="#868686" stroke-width="1.3" />
<text x="594.0" y="990.2" font-size="24.5" text-anchor="end" textLength="34.3" lengthAdjust="spacingAndGlyphs" >0.5</text>
<line x1="607.80" y1="905.36" x2="616.10" y2="905.36" stroke="#868686" stroke-width="1.3" />
<text x="594.0" y="914.1" font-size="24.5" text-anchor="end" textLength="13.0" lengthAdjust="spacingAndGlyphs" >1</text>
<line x1="607.80" y1="829.24" x2="616.10" y2="829.24" stroke="#868686" stroke-width="1.3" />
<text x="594.0" y="837.9" font-size="24.5" text-anchor="end" textLength="34.3" lengthAdjust="spacingAndGlyphs" >1.5</text>
<line x1="607.80" y1="753.12" x2="616.10" y2="753.12" stroke="#868686" stroke-width="1.3" />
<text x="594.0" y="761.8" font-size="24.5" text-anchor="end" textLength="13.0" lengthAdjust="spacingAndGlyphs" >2</text>
<line x1="607.80" y1="677.00" x2="616.10" y2="677.00" stroke="#868686" stroke-width="1.3" />
<text x="594.0" y="685.7" font-size="24.5" text-anchor="end" textLength="34.3" lengthAdjust="spacingAndGlyphs" >2.5</text>
<rect x="629.30" y="1055.77" width="18.10" height="2.68" fill="#ffffff" stroke="#000" stroke-width="2.4" />
<rect x="647.40" y="1055.77" width="18.10" height="2.68" fill="#808080" stroke="#000" stroke-width="2.4" />
<rect x="665.50" y="1047.55" width="18.10" height="10.90" fill="#000000" stroke="#000" stroke-width="2.4" />
<rect x="710.15" y="1028.07" width="18.10" height="30.38" fill="#ffffff" stroke="#000" stroke-width="2.4" />
<rect x="728.25" y="1032.48" width="18.10" height="25.97" fill="#808080" stroke="#000" stroke-width="2.4" />
<rect x="746.35" y="961.08" width="18.10" height="97.37" fill="#000000" stroke="#000" stroke-width="2.4" />
<rect x="791.00" y="954.53" width="18.10" height="103.92" fill="#ffffff" stroke="#000" stroke-width="2.4" />
<rect x="809.10" y="762.10" width="18.10" height="296.35" fill="#808080" stroke="#000" stroke-width="2.4" />
<rect x="827.20" y="890.29" width="18.10" height="168.16" fill="#000000" stroke="#000" stroke-width="2.4" />
<rect x="871.85" y="1054.25" width="18.10" height="4.20" fill="#ffffff" stroke="#000" stroke-width="2.4" />
<rect x="889.95" y="1055.77" width="18.10" height="2.68" fill="#808080" stroke="#000" stroke-width="2.4" />
<rect x="908.05" y="1055.77" width="18.10" height="2.68" fill="#000000" stroke="#000" stroke-width="2.4" />
<rect x="952.70" y="1012.99" width="18.10" height="45.46" fill="#ffffff" stroke="#000" stroke-width="2.4" />
<rect x="970.80" y="1007.21" width="18.10" height="51.24" fill="#808080" stroke="#000" stroke-width="2.4" />
<rect x="988.90" y="1028.07" width="18.10" height="30.38" fill="#000000" stroke="#000" stroke-width="2.4" />
<line x1="607.80" y1="1057.60" x2="1020.00" y2="1057.60" stroke="#868686" stroke-width="1.4" />
<text x="656.2" y="1091.5" font-size="22.5" text-anchor="middle" textLength="54.8" lengthAdjust="spacingAndGlyphs" >TC1C</text>
<text x="737.4" y="1091.5" font-size="22.5" text-anchor="middle" textLength="72.6" lengthAdjust="spacingAndGlyphs" >ABE1C</text>
<text x="818.5" y="1091.5" font-size="22.5" text-anchor="middle" textLength="72.6" lengthAdjust="spacingAndGlyphs" >ABE2C</text>
<text x="899.4" y="1091.5" font-size="22.5" text-anchor="middle" textLength="72.6" lengthAdjust="spacingAndGlyphs" >ABE3C</text>
<text x="981.0" y="1091.5" font-size="22.5" text-anchor="middle" textLength="58.0" lengthAdjust="spacingAndGlyphs" >TM1C</text>
<text x="817.8" y="1124.6" font-size="25.5" text-anchor="middle" textLength="76.0" lengthAdjust="spacingAndGlyphs" >Edifice</text>
<text x="1004.8" y="705.6" font-size="25" text-anchor="end" textLength="96.4" lengthAdjust="spacingAndGlyphs" >p &gt;0.999</text>
<text transform="translate(547.2,857.9) rotate(-90)" font-size="26" text-anchor="middle"><tspan font-style="italic">I. nautilei</tspan>, surface area (m<tspan font-size="15" dy="-9">2</tspan><tspan dy="9">)</tspan></text>
<path d="M1137.20,682.60 H1540.30 V1058.80" fill="none" stroke="#5e5e5e" stroke-width="1.5"/>
<line x1="1137.20" y1="682.60" x2="1137.20" y2="1058.80" stroke="#868686" stroke-width="1.3" />
<line x1="1128.90" y1="1058.80" x2="1137.20" y2="1058.80" stroke="#868686" stroke-width="1.3" />
<text x="1115.4" y="1067.5" font-size="24.5" text-anchor="end" textLength="13.0" lengthAdjust="spacingAndGlyphs" >0</text>
<line x1="1128.90" y1="983.56" x2="1137.20" y2="983.56" stroke="#868686" stroke-width="1.3" />
<text x="1115.4" y="992.3" font-size="24.5" text-anchor="end" textLength="34.3" lengthAdjust="spacingAndGlyphs" >0.2</text>
<line x1="1128.90" y1="908.32" x2="1137.20" y2="908.32" stroke="#868686" stroke-width="1.3" />
<text x="1115.4" y="917.0" font-size="24.5" text-anchor="end" textLength="34.3" lengthAdjust="spacingAndGlyphs" >0.4</text>
<line x1="1128.90" y1="833.08" x2="1137.20" y2="833.08" stroke="#868686" stroke-width="1.3" />
<text x="1115.4" y="841.8" font-size="24.5" text-anchor="end" textLength="34.3" lengthAdjust="spacingAndGlyphs" >0.6</text>
<line x1="1128.90" y1="757.84" x2="1137.20" y2="757.84" stroke="#868686" stroke-width="1.3" />
<text x="1115.4" y="766.5" font-size="24.5" text-anchor="end" textLength="34.3" lengthAdjust="spacingAndGlyphs" >0.8</text>
<line x1="1128.90" y1="682.60" x2="1137.20" y2="682.60" stroke="#868686" stroke-width="1.3" />
<text x="1115.4" y="691.3" font-size="24.5" text-anchor="end" textLength="13.0" lengthAdjust="spacingAndGlyphs" >1</text>
<rect x="1151.20" y="1030.85" width="17.80" height="28.80" fill="#ffffff" stroke="#000" stroke-width="2.4" />
<rect x="1169.00" y="1039.50" width="17.80" height="20.15" fill="#808080" stroke="#000" stroke-width="2.4" />
<rect x="1186.80" y="1038.00" width="17.80" height="21.65" fill="#000000" stroke="#000" stroke-width="2.4" />
<rect x="1231.90" y="984.69" width="17.80" height="74.96" fill="#ffffff" stroke="#000" stroke-width="2.4" />
<rect x="1249.70" y="1020.99" width="17.80" height="38.66" fill="#808080" stroke="#000" stroke-width="2.4" />
<rect x="1267.50" y="978.67" width="17.80" height="80.98" fill="#000000" stroke="#000" stroke-width="2.4" />
<rect x="1312.60" y="778.91" width="17.80" height="280.74" fill="#ffffff" stroke="#000" stroke-width="2.4" />
<rect x="1330.40" y="913.59" width="17.80" height="146.06" fill="#808080" stroke="#000" stroke-width="2.4" />
<rect x="1348.20" y="754.45" width="17.80" height="305.20" fill="#000000" stroke="#000" stroke-width="2.4" />
<rect x="1393.30" y="1057.67" width="17.80" height="1.98" fill="#ffffff" stroke="#000" stroke-width="2.4" />
<rect x="1411.10" y="1057.67" width="17.80" height="1.98" fill="#808080" stroke="#000" stroke-width="2.4" />
<rect x="1428.90" y="1044.88" width="17.80" height="14.77" fill="#000000" stroke="#000" stroke-width="2.4" />
<rect x="1474.00" y="1035.10" width="17.80" height="24.55" fill="#ffffff" stroke="#000" stroke-width="2.4" />
<rect x="1491.80" y="1022.68" width="17.80" height="36.97" fill="#808080" stroke="#000" stroke-width="2.4" />
<rect x="1509.60" y="1046.01" width="17.80" height="13.64" fill="#000000" stroke="#000" stroke-width="2.4" />
<line x1="1128.90" y1="1058.80" x2="1540.30" y2="1058.80" stroke="#868686" stroke-width="1.4" />
<text x="1176.2" y="1092.8" font-size="22.5" text-anchor="middle" textLength="54.8" lengthAdjust="spacingAndGlyphs" >TC1C</text>
<text x="1257.4" y="1092.8" font-size="22.5" text-anchor="middle" textLength="72.6" lengthAdjust="spacingAndGlyphs" >ABE1C</text>
<text x="1338.5" y="1092.8" font-size="22.5" text-anchor="middle" textLength="72.6" lengthAdjust="spacingAndGlyphs" >ABE2C</text>
<text x="1419.6" y="1092.8" font-size="22.5" text-anchor="middle" textLength="72.6" lengthAdjust="spacingAndGlyphs" >ABE3C</text>
<text x="1501.0" y="1092.8" font-size="22.5" text-anchor="middle" textLength="58.0" lengthAdjust="spacingAndGlyphs" >TM1C</text>
<text x="1339.1" y="1126.0" font-size="25.5" text-anchor="middle" textLength="76.0" lengthAdjust="spacingAndGlyphs" >Edifice</text>
<text x="1526.2" y="711.2" font-size="25" text-anchor="end" textLength="80.8" lengthAdjust="spacingAndGlyphs" >p 0.449</text>
<text transform="translate(1068.8,862.2) rotate(-90)" font-size="26" text-anchor="middle"><tspan font-style="italic">B. septemdierum</tspan>, surface area (m<tspan font-size="15" dy="-9">2</tspan><tspan dy="9">)</tspan></text>
<rect x="119.50" y="663.30" width="76.80" height="83.30" fill="#ffffff" stroke="#888888" stroke-width="1.4" />
<rect x="132.75" y="670.75" width="12.70" height="12.70" fill="#ffffff" stroke="#000" stroke-width="2.3" />
<text x="153.3" y="685.9" font-size="25.0" text-anchor="start" >‘06</text>
<rect x="132.75" y="698.75" width="12.70" height="12.70" fill="#808080" stroke="#000" stroke-width="2.3" />
<text x="153.3" y="713.9" font-size="25.0" text-anchor="start" >‘09</text>
<rect x="132.75" y="726.75" width="12.70" height="12.70" fill="#000000" stroke="#000" stroke-width="2.3" />
<text x="153.3" y="741.9" font-size="25.0" text-anchor="start" >‘16</text>
</svg>
</body></html>
